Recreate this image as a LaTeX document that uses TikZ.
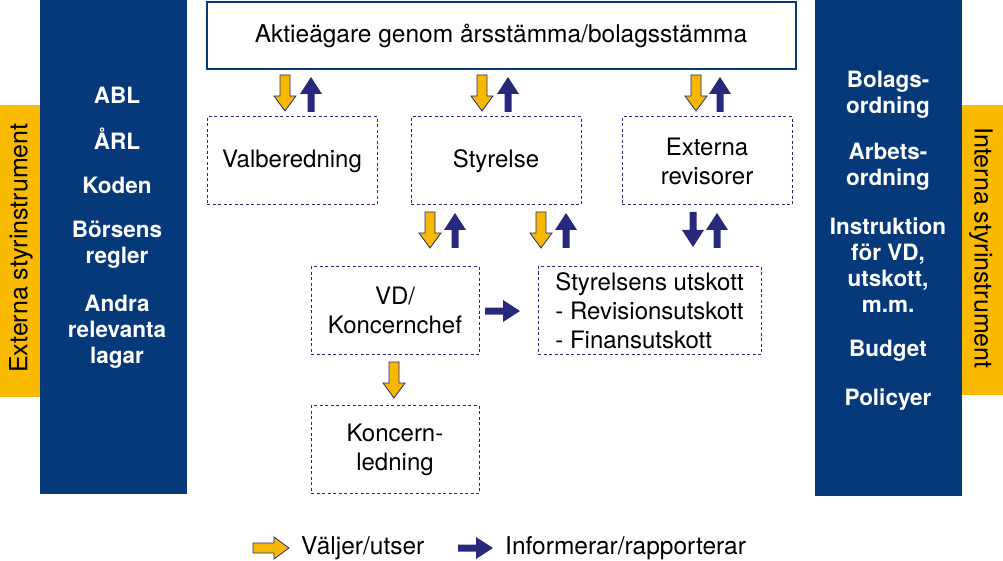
\documentclass[tikz,border=0pt]{standalone}
\usepackage{fontspec}
\setmainfont{TeX Gyre Heros}
\definecolor{boxblue}{RGB}{6,57,122}
\definecolor{navy}{RGB}{40,40,125}
\definecolor{gold}{RGB}{248,184,0}
\definecolor{band}{RGB}{249,186,0}
\tikzset{
 dbox/.style={draw=navy, line width=1pt, dash pattern=on 3pt off 2.5pt, minimum width=170pt, minimum height=88pt, inner sep=0pt, align=center, font=\fontsize{24}{29}\selectfont},
 wtxt/.style={text=white, align=center, font=\bfseries\fontsize{22.5}{26}\selectfont, inner sep=0pt},
 bandtxt/.style={text=black, font=\fontsize{25}{28}\selectfont, inner sep=0pt},
 legtxt/.style={anchor=west, font=\fontsize{24.5}{26}\selectfont, inner sep=0pt},
 pics/yarr/.style={code={\draw[navy, line width=0.8pt, fill=gold, line join=miter] (-5,0) -- (5,0) -- (5,21) -- (11,21) -- (0,36) -- (-11,21) -- (-5,21) -- cycle;}},
 pics/barr/.style={code={\fill[navy] (-3.5,0) -- (3.5,0) -- (3.5,18) -- (11,18) -- (0,35) -- (-11,18) -- (-3.5,18) -- cycle;}},
}
\begin{document}
\begin{tikzpicture}[x=1pt,y=-1pt]
\useasboundingbox (0,0) rectangle (1003,561);
% bands
\fill[band] (0,105) rectangle (40,397);
\fill[band] (962,105) rectangle (1003,395);
\fill[boxblue] (40,0) rectangle (187,494);
\fill[boxblue] (815,0) rectangle (962,496);
\node[bandtxt, rotate=90] (extband) at (21,248) {Externa styrinstrument};
\node[bandtxt, rotate=-90] (intband) at (981,248) {Interna styrinstrument};
% left texts
\node[wtxt] (abl) at (117,95) {ABL};
\node[wtxt] (arl) at (117,139) {ÅRL};
\node[wtxt] (koden) at (117,185) {Koden};
\node[wtxt] (borsens) at (117,245) {Börsens\\regler};
\node[wtxt] (andra) at (117,332) {Andra\\relevanta\\lagar};
% right texts
\node[wtxt] (bolags) at (888,95) {Bolags-\\ordning};
\node[wtxt] (arbets) at (888,167) {Arbets-\\ordning};
\node[wtxt] (instr) at (888,265) {Instruktion\\för VD,\\utskott,\\m.m.};
\node[wtxt] (budget) at (888,351) {Budget};
\node[wtxt] (policy) at (888,400) {Policyer};
% top box
\node[draw=boxblue, line width=2pt, minimum width=589pt, minimum height=67pt, inner sep=0pt, font=\fontsize{24.5}{26}\selectfont] (agare) at (501,36) {\raisebox{-3pt}{Aktieägare genom årsstämma/bolagsstämma}};
% dashed boxes
\node[dbox] (valb) at (292,161) {\raisebox{-2pt}{Valberedning}};
\node[dbox] (styr) at (496,161) {\raisebox{-2pt}{Styrelse}};
\node[dbox] (rev) at (707,161) {Externa\\revisorer};
\node[dbox, minimum width=168pt] (vd) at (395,310.5) {VD/\\Koncernchef};
\node[dbox, minimum width=223pt, align=left] (utsk) at (649.5,310.5) {Styrelsens utskott\\- Revisionsutskott\\- Finansutskott};
\node[dbox, minimum width=168pt] (kl) at (395,449.5) {Koncern-\\ledning};
% arrows top row
\pic at (285,75) {yarr};
\pic[rotate=180] at (311,112) {barr};
\pic at (482,75) {yarr};
\pic[rotate=180] at (508,112) {barr};
\pic at (696,75) {yarr};
\pic[rotate=180] at (720,112) {barr};
% arrows second row
\pic at (430,212) {yarr};
\pic[rotate=180] at (455,248) {barr};
\pic at (541,212) {yarr};
\pic[rotate=180] at (566,248) {barr};
\pic at (693,212) {barr};
\pic[rotate=180] at (717,248) {barr};
% vd -> utskott
\pic[rotate=90] at (485,311) {barr};
% vd -> koncernledning
\pic at (394,362) {yarr};
% legend
\pic[rotate=90] at (253,548) {yarr};
\node[legtxt] (leg1) at (301,548) {Väljer/utser};
\pic[rotate=90] at (458,548) {barr};
\node[legtxt] (leg2) at (505,548) {Informerar/rapporterar};
\end{tikzpicture}
\end{document}
